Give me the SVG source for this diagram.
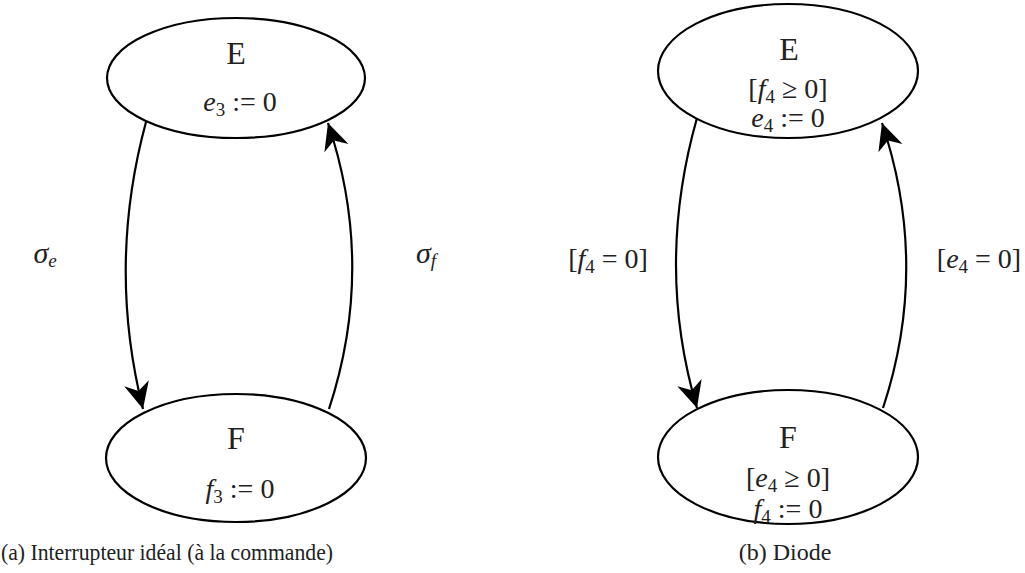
<svg xmlns="http://www.w3.org/2000/svg" width="1025" height="573" viewBox="0 0 1025 573">
<style>
.node ellipse{fill:#fff;stroke:#000;stroke-width:2.2}
.lbl{font-family:"Liberation Serif","DejaVu Serif",serif;fill:#222;text-anchor:middle}
.big{font-size:32px}
.m{font-size:28px}
.cap{font-family:"Liberation Serif","DejaVu Serif",serif;font-size:24px;fill:#222}
.i{font-style:italic}
.sub{font-size:19px}
.edge{fill:none;stroke:#000;stroke-width:2.2}
</style>
<defs>
<marker id="ah" markerUnits="userSpaceOnUse" markerWidth="30" markerHeight="30" viewBox="-24 -12 26 24" refX="0" refY="0" orient="auto" overflow="visible">
<path d="M0,0 L-23,-11 L-16,0 L-23,11 Z" fill="#000"/>
</marker>
</defs>
<g id="connectors">
<path class="edge" d="M146,122 Q107,266 143,409" marker-end="url(#ah)"/>
<path class="edge" d="M329,409 Q376,266 328,123" marker-end="url(#ah)"/>
<path class="edge" d="M697,118 Q655,266 697,408" marker-end="url(#ah)"/>
<path class="edge" d="M883,408 Q930,266 882,123" marker-end="url(#ah)"/>
</g>
<g id="nodeA_E" class="node">
<ellipse cx="236" cy="78" rx="129" ry="60"/>
<text class="lbl big" x="236" y="64">E</text>
<text class="lbl m" x="240" y="111"><tspan class="i">e</tspan><tspan class="sub" dy="5">3</tspan><tspan dy="-5"> := 0</tspan></text>
</g>
<g id="nodeA_F" class="node">
<ellipse cx="236" cy="458" rx="130" ry="64"/>
<text class="lbl big" x="236" y="449">F</text>
<text class="lbl m" x="240" y="498"><tspan class="i">f</tspan><tspan class="sub" dy="5">3</tspan><tspan dy="-5"> := 0</tspan></text>
</g>
<g id="nodeB_E" class="node">
<ellipse cx="788" cy="71" rx="130" ry="67"/>
<text class="lbl big" x="789" y="60">E</text>
<text class="lbl m" x="788" y="98">[<tspan class="i">f</tspan><tspan class="sub" dy="5">4</tspan><tspan dy="-5"> ≥ 0]</tspan></text>
<text class="lbl m" x="788" y="127"><tspan class="i">e</tspan><tspan class="sub" dy="5">4</tspan><tspan dy="-5"> := 0</tspan></text>
</g>
<g id="nodeB_F" class="node">
<ellipse cx="788" cy="457" rx="130" ry="67"/>
<text class="lbl big" x="788" y="448">F</text>
<text class="lbl m" x="788" y="487">[<tspan class="i">e</tspan><tspan class="sub" dy="5">4</tspan><tspan dy="-5"> ≥ 0]</tspan></text>
<text class="lbl m" x="788" y="518"><tspan class="i">f</tspan><tspan class="sub" dy="5">4</tspan><tspan dy="-5"> := 0</tspan></text>
</g>
<g id="edge_labels">
<text class="lbl m" x="45" y="263" style="font-size:30px"><tspan class="i">σ</tspan><tspan class="sub i" dy="4">e</tspan></text>
<text class="lbl m" x="426" y="263" style="font-size:30px"><tspan class="i">σ</tspan><tspan class="sub i" dy="4">f</tspan></text>
<text class="lbl m" x="608" y="268">[<tspan class="i">f</tspan><tspan class="sub" dy="5">4</tspan><tspan dy="-5"> = 0]</tspan></text>
<text class="lbl m" x="979" y="268">[<tspan class="i">e</tspan><tspan class="sub" dy="5">4</tspan><tspan dy="-5"> = 0]</tspan></text>
</g>
<g id="captions">
<text class="cap" x="1" y="560" textLength="332" lengthAdjust="spacingAndGlyphs">(a) Interrupteur idéal (à la commande)</text>
<text class="cap" x="785" y="560" text-anchor="middle">(b) Diode</text>
</g>
</svg>
